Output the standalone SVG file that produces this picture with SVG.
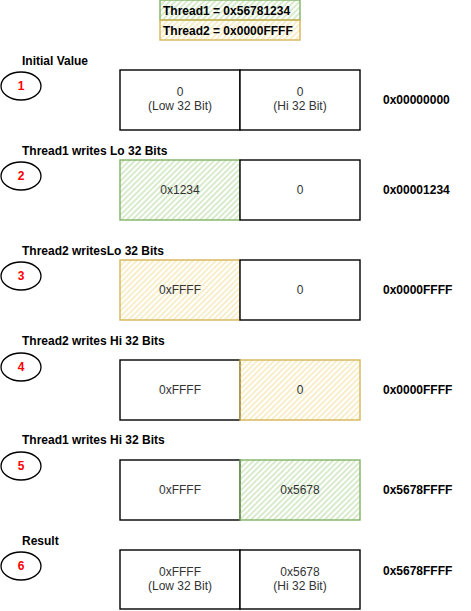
<svg xmlns="http://www.w3.org/2000/svg" width="471" height="611" viewBox="0 0 471 611">
<defs>
<pattern id="hg" patternUnits="userSpaceOnUse" width="4" height="4" patternTransform="rotate(45)"><line x1="1" y1="0" x2="1" y2="4" stroke="#a9d18e" stroke-width="0.9"/></pattern>
<pattern id="hy" patternUnits="userSpaceOnUse" width="4" height="4" patternTransform="rotate(45)"><line x1="1" y1="0" x2="1" y2="4" stroke="#f2d98a" stroke-width="0.9"/></pattern>
</defs>
<style>
.b{fill:#fff;stroke:#000;stroke-width:1.4}
.g{fill:url(#hg);stroke:#82b366;stroke-width:1.4}
.y{fill:url(#hy);stroke:#d6b656;stroke-width:1.4}
.t{font-family:"Liberation Sans",Arial,sans-serif;font-size:12px;fill:#333;text-anchor:middle}
.l{font-family:"Liberation Sans",Arial,sans-serif;font-size:12px;font-weight:bold;fill:#000}
.n{font-family:"Liberation Sans",Arial,sans-serif;font-size:12px;font-weight:bold;fill:#ff0000;text-anchor:middle}
.e{fill:none;stroke:#000;stroke-width:1.3}
</style>
<g id="legend1"><rect x="160" y="0" width="140" height="20" class="g"/><text x="163" y="15" class="l">Thread1 = 0x56781234</text></g>
<g id="legend2"><rect x="160" y="20" width="140" height="20" class="y"/><text x="163" y="35" class="l">Thread2 = 0x0000FFFF</text></g>

<g id="row1">
<text x="22" y="65" class="l">Initial Value</text>
<ellipse cx="21" cy="86" rx="20" ry="14" class="e"/><text x="21" y="90" class="n">1</text>
<rect x="120" y="70" width="120" height="60" class="b"/><rect x="240" y="70" width="120" height="60" class="b"/>
<text x="180" y="96" class="t">0</text><text x="180" y="110" class="t">(Low 32 Bit)</text>
<text x="300" y="96" class="t">0</text><text x="300" y="110" class="t">(Hi 32 Bit)</text>
<text x="383" y="104" class="l">0x00000000</text>
</g>
<g id="row2">
<text x="22" y="155" class="l">Thread1 writes Lo 32 Bits</text>
<ellipse cx="21" cy="176" rx="20" ry="14" class="e"/><text x="21" y="180" class="n">2</text>
<rect x="120" y="160" width="120" height="60" class="g"/><rect x="240" y="160" width="120" height="60" class="b"/>
<text x="180" y="194" class="t">0x1234</text><text x="300" y="194" class="t">0</text>
<text x="383" y="194" class="l">0x00001234</text>
</g>
<g id="row3">
<text x="22" y="255" class="l">Thread2 writesLo 32 Bits</text>
<ellipse cx="21" cy="276" rx="20" ry="14" class="e"/><text x="21" y="280" class="n">3</text>
<rect x="120" y="260" width="120" height="60" class="y"/><rect x="240" y="260" width="120" height="60" class="b"/>
<text x="180" y="294" class="t">0xFFFF</text><text x="300" y="294" class="t">0</text>
<text x="383" y="294" class="l">0x0000FFFF</text>
</g>
<g id="row4">
<text x="22" y="345" class="l">Thread2 writes Hi 32 Bits</text>
<ellipse cx="21" cy="367" rx="20" ry="14" class="e"/><text x="21" y="371" class="n">4</text>
<rect x="120" y="360" width="120" height="60" class="b"/><rect x="240" y="360" width="120" height="60" class="y"/>
<text x="180" y="394" class="t">0xFFFF</text><text x="300" y="394" class="t">0</text>
<text x="383" y="394" class="l">0x0000FFFF</text>
</g>
<g id="row5">
<text x="22" y="444" class="l">Thread1 writes Hi 32 Bits</text>
<ellipse cx="21" cy="466" rx="20" ry="14" class="e"/><text x="21" y="470" class="n">5</text>
<rect x="120" y="460" width="120" height="60" class="b"/><rect x="240" y="460" width="120" height="60" class="g"/>
<text x="180" y="494" class="t">0xFFFF</text><text x="300" y="494" class="t">0x5678</text>
<text x="383" y="494" class="l">0x5678FFFF</text>
</g>
<g id="row6">
<text x="22" y="545" class="l">Result</text>
<ellipse cx="21" cy="566" rx="20" ry="14" class="e"/><text x="21" y="570" class="n">6</text>
<rect x="120" y="550" width="120" height="59" class="b"/><rect x="240" y="550" width="120" height="59" class="b"/>
<text x="180" y="576" class="t">0xFFFF</text><text x="180" y="590" class="t">(Low 32 Bit)</text>
<text x="300" y="576" class="t">0x5678</text><text x="300" y="590" class="t">(Hi 32 Bit)</text>
<text x="383" y="575" class="l">0x5678FFFF</text>
</g>
<g id="connectors"/>
</svg>
